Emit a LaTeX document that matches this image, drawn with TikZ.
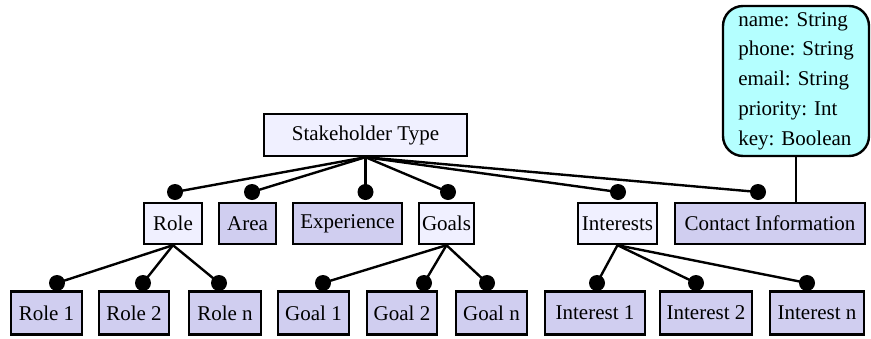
\documentclass[tikz,border=0pt]{standalone}
\usepackage{fontspec}
\setmainfont{Liberation Serif}
\definecolor{lightbox}{RGB}{240,240,255}
\definecolor{featbox}{RGB}{208,206,240}
\definecolor{attrbox}{RGB}{180,255,255}
\begin{document}
\begin{tikzpicture}[x=1pt,y=-1pt,
  base/.style={draw=black, line width=2.4pt, inner sep=0pt, font=\fontsize{21}{25}\selectfont},
  abox/.style={base, fill=lightbox},
  fbox/.style={base, fill=featbox},
  conn/.style={line width=2.4pt},
  dotmark/.style={fill=black}
]
\useasboundingbox (0,0) rectangle (871,338);

% root
\node[abox, minimum width=203pt, minimum height=42pt] (st) at (365.5,135) {Stakeholder Type};

% second row
\node[abox, minimum width=58pt, minimum height=41pt] (role) at (173,223.5) {Role};
\node[fbox, minimum width=57pt, minimum height=41pt] (area) at (247.5,223.5) {Area};
\node[fbox, minimum width=109pt, minimum height=41pt] (exp) at (347.5,223.5) {Experience};
\node[abox, minimum width=55pt, minimum height=41pt] (goals) at (446.5,223.5) {Goals};
\node[abox, minimum width=79pt, minimum height=41pt] (inter) at (617.5,223.5) {Interests};
\node[fbox, minimum width=190pt, minimum height=41pt] (contact) at (770,223.5) {Contact Information};

% attribute box
\node[base, fill=attrbox, rounded corners=20pt, minimum width=146pt, minimum height=150pt,
      align=left, font=\fontsize{21}{29.75}\selectfont] (attr) at (796,81)
  {name: String\\phone: String\\email: String\\priority: Int\\key: Boolean};

% leaves
\node[fbox, minimum width=71pt, minimum height=43pt] (r1) at (46.5,313) {Role 1};
\node[fbox, minimum width=70pt, minimum height=43pt] (r2) at (134,313) {Role 2};
\node[fbox, minimum width=72pt, minimum height=43pt] (rn) at (225,313) {Role n};
\node[fbox, minimum width=71pt, minimum height=43pt] (g1) at (313.5,313) {Goal 1};
\node[fbox, minimum width=70pt, minimum height=43pt] (g2) at (402,313) {Goal 2};
\node[fbox, minimum width=71pt, minimum height=43pt] (gn) at (491.5,313) {Goal n};
\node[fbox, minimum width=100pt, minimum height=43pt] (i1) at (595,313) {Interest 1};
\node[fbox, minimum width=92pt, minimum height=43pt] (i2) at (706,313) {Interest 2};
\node[fbox, minimum width=94pt, minimum height=43pt] (in) at (817,313) {Interest n};

% dot coordinates
\coordinate (droleP) at (175,192);
\coordinate (dareaP) at (252,192);
\coordinate (dexpP) at (365.5,192);
\coordinate (dgoalsP) at (448,192);
\coordinate (dinterP) at (618,192);
\coordinate (dcontactP) at (758,192);
\coordinate (dr1) at (57,283);
\coordinate (dr2) at (143,283);
\coordinate (drn) at (219,283);
\coordinate (dg1) at (323,283);
\coordinate (dg2) at (424,283);
\coordinate (dgn) at (487,283);
\coordinate (di1) at (597,283);
\coordinate (di2) at (696,283);
\coordinate (din) at (807,283);

% connectors
\foreach \d in {droleP,dareaP,dexpP,dgoalsP,dinterP,dcontactP}
  \draw[conn] (st.south) -- (\d);
\foreach \d in {dr1,dr2,drn}
  \draw[conn] (role.south) -- (\d);
\foreach \d in {dg1,dg2,dgn}
  \draw[conn] (goals.south) -- (\d);
\foreach \d in {di1,di2,din}
  \draw[conn] (inter.south) -- (\d);
\draw[conn] (attr.south) -- (attr.south |- contact.north);

\foreach \d in {droleP,dareaP,dexpP,dgoalsP,dinterP,dcontactP,dr1,dr2,drn,dg1,dg2,dgn,di1,di2,din}
  \fill[dotmark] (\d) circle (8pt);
\end{tikzpicture}
\end{document}
